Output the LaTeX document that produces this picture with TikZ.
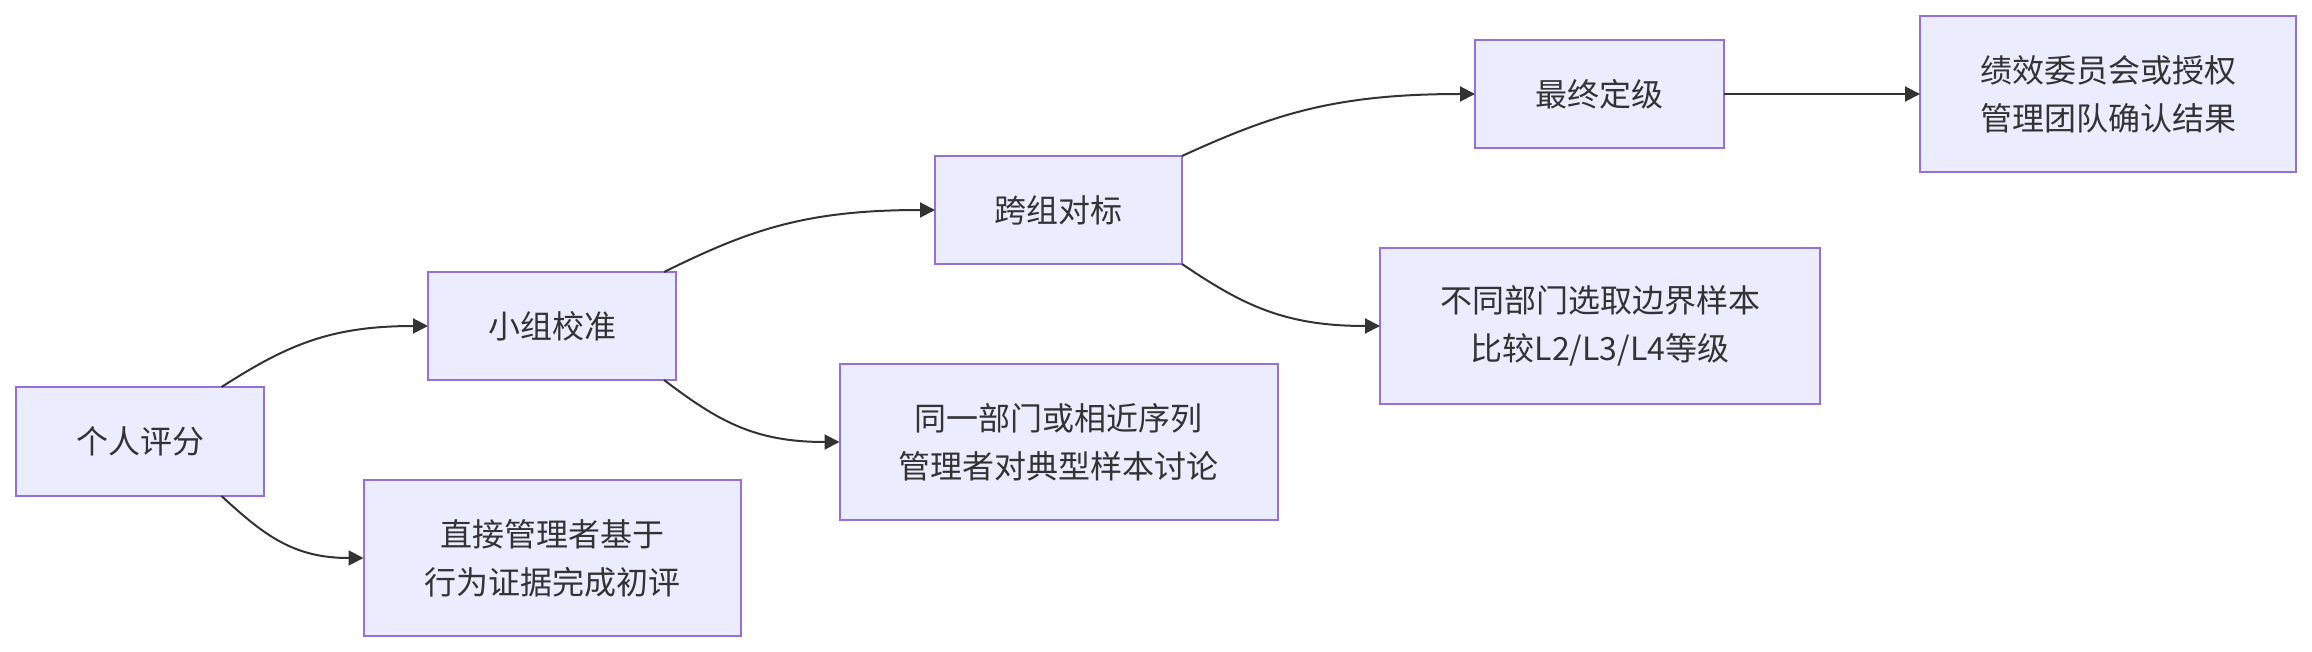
\documentclass[tikz,border=0pt]{standalone}
\usepackage{fontspec}
\newfontfamily\cjk{Noto Sans CJK SC}
\usetikzlibrary{arrows.meta}
\definecolor{boxfill}{HTML}{ECECFF}
\definecolor{boxline}{HTML}{9370DB}
\definecolor{ink}{HTML}{333333}
\tikzset{
  box/.style={draw=boxline, fill=boxfill, line width=2pt, text=ink, outer sep=0pt,
    inner sep=0pt, align=center, font=\cjk\fontsize{32}{48}\selectfont},
  edge/.style={draw=ink, line width=2pt, -{Triangle[length=15pt,width=15pt]}}
}
\begin{document}
\begin{tikzpicture}[x=1pt,y=-1pt]
\useasboundingbox (0,0) rectangle (2312,652);
\node[box, minimum width=248pt, minimum height=109pt] (A) at (140,441.5) {个人评分};
\node[box, minimum width=248pt, minimum height=108pt] (B) at (552,326) {小组校准};
\node[box, minimum width=377pt, minimum height=156pt] (C) at (552,558) {直接管理者基于\\行为证据完成初评};
\node[box, minimum width=247pt, minimum height=108pt] (D) at (1058.5,210) {跨组对标};
\node[box, minimum width=438pt, minimum height=156pt] (E) at (1058.5,442) {同一部门或相近序列\\管理者对典型样本讨论};
\node[box, minimum width=249pt, minimum height=108pt] (F) at (1599.5,94) {最终定级};
\node[box, minimum width=440pt, minimum height=156pt] (G) at (1600,326) {不同部门选取边界样本\\比较L2/L3/L4等级};
\node[box, minimum width=376pt, minimum height=156pt] (H) at (2108,94) {绩效委员会或授权\\管理团队确认结果};

\draw[edge] ([xshift=-42.5pt]A.north east) .. controls +(63.9,-40.7) and +(-100,0) .. (B.west);
\draw[edge] ([xshift=-42.5pt]A.south east) .. controls +(44,40.7) and +(-68.9,0) .. (C.west);
\draw[edge] ([xshift=-12pt]B.north east) .. controls +(84,-41.3) and +(-131.4,0) .. (D.west);
\draw[edge] ([xshift=-12pt]B.south east) .. controls +(54.4,41.3) and +(-85.1,0) .. (E.west);
\draw[edge] (D.north east) .. controls +(90.5,-41.3) and +(-141.6,0) .. (F.west);
\draw[edge] (D.south east) .. controls +(61,41.3) and +(-95.5,0) .. (G.west);
\draw[edge] (F.east) -- (H.west);
\end{tikzpicture}
\end{document}
